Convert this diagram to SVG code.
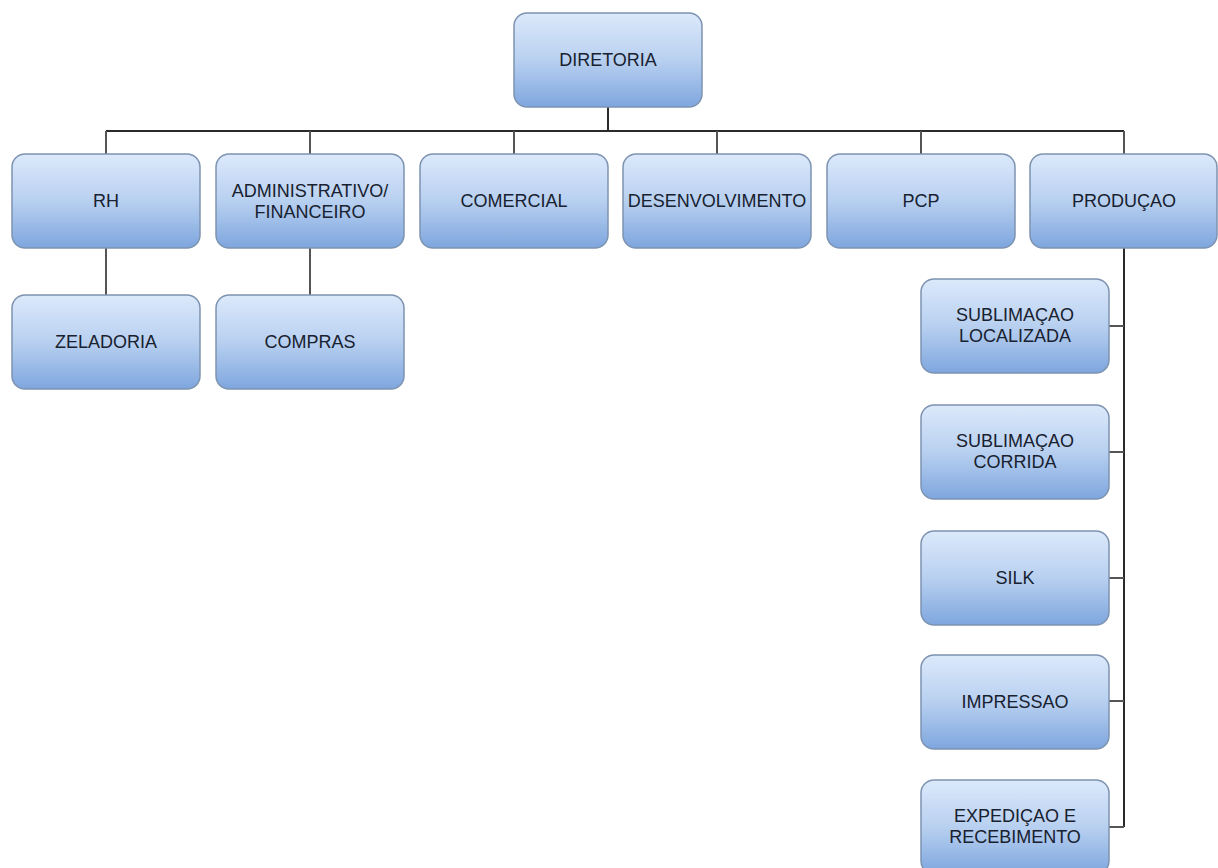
<svg xmlns="http://www.w3.org/2000/svg" width="1218" height="868" viewBox="0 0 1218 868">
<defs>
<linearGradient id="g" x1="0" y1="0" x2="0" y2="1">
<stop offset="0" stop-color="#dce9fb"/>
<stop offset="0.5" stop-color="#b8d0f0"/>
<stop offset="1" stop-color="#7ea6de"/>
</linearGradient>
<style>
.box{fill:url(#g);stroke:#7d93b0;stroke-width:1.5}
.t{font-family:"Liberation Sans",Arial,sans-serif;font-size:18px;fill:#18212f;text-anchor:middle;dominant-baseline:central}
.c{stroke:#2a2a2a;stroke-width:2;fill:none}
.c2{stroke:#555;stroke-width:2;fill:none}
</style>
</defs>
<rect width="1218" height="868" fill="#ffffff"/>
<g id="connectors">
<path class="c" d="M608 107V131M106 131H1124"/>
<path class="c2" d="M106 131V154M310 131V154M514 131V154M717 131V154M921 131V154M1124 131V154"/>
<path class="c2" d="M106 248V295M310 248V295"/>
<path class="c" d="M1124 248V827"/>
<path class="c2" d="M1109 326H1124M1109 452H1124M1109 578H1124M1109 701H1124M1109 827H1124"/>
</g>
<g id="diretoria"><rect class="box" x="514" y="13" width="188" height="94" rx="13"/><text class="t" x="608" y="60">DIRETORIA</text></g>
<g id="rh"><rect class="box" x="12" y="154" width="188" height="94" rx="13"/><text class="t" x="106" y="201">RH</text></g>
<g id="administrativo"><rect class="box" x="216" y="154" width="188" height="94" rx="13"/><text class="t" x="310" y="191">ADMINISTRATIVO/</text><text class="t" x="310" y="212">FINANCEIRO</text></g>
<g id="comercial"><rect class="box" x="420" y="154" width="188" height="94" rx="13"/><text class="t" x="514" y="201">COMERCIAL</text></g>
<g id="desenvolvimento"><rect class="box" x="623" y="154" width="188" height="94" rx="13"/><text class="t" x="717" y="201">DESENVOLVIMENTO</text></g>
<g id="pcp"><rect class="box" x="827" y="154" width="188" height="94" rx="13"/><text class="t" x="921" y="201">PCP</text></g>
<g id="producao"><rect class="box" x="1030" y="154" width="187" height="94" rx="13"/><text class="t" x="1124" y="201">PRODUÇAO</text></g>
<g id="zeladoria"><rect class="box" x="12" y="295" width="188" height="94" rx="13"/><text class="t" x="106" y="342">ZELADORIA</text></g>
<g id="compras"><rect class="box" x="216" y="295" width="188" height="94" rx="13"/><text class="t" x="310" y="342">COMPRAS</text></g>
<g id="sublimacao-localizada"><rect class="box" x="921" y="279" width="188" height="94" rx="13"/><text class="t" x="1015" y="315">SUBLIMAÇAO</text><text class="t" x="1015" y="336">LOCALIZADA</text></g>
<g id="sublimacao-corrida"><rect class="box" x="921" y="405" width="188" height="94" rx="13"/><text class="t" x="1015" y="441">SUBLIMAÇAO</text><text class="t" x="1015" y="462">CORRIDA</text></g>
<g id="silk"><rect class="box" x="921" y="531" width="188" height="94" rx="13"/><text class="t" x="1015" y="578">SILK</text></g>
<g id="impressao"><rect class="box" x="921" y="655" width="188" height="94" rx="13"/><text class="t" x="1015" y="702">IMPRESSAO</text></g>
<g id="expedicao"><rect class="box" x="921" y="780" width="188" height="94" rx="13"/><text class="t" x="1015" y="816">EXPEDIÇAO E</text><text class="t" x="1015" y="837">RECEBIMENTO</text></g>
</svg>
